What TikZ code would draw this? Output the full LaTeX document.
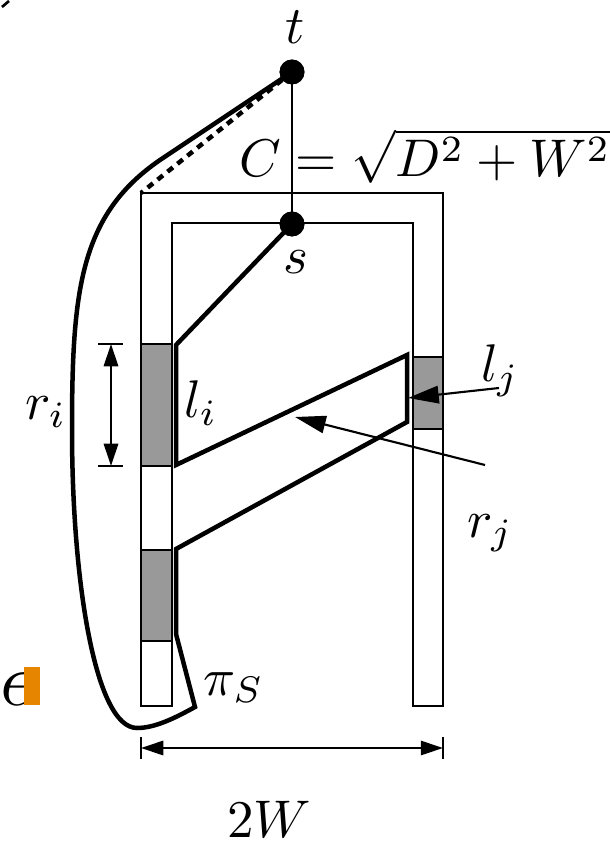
\documentclass[tikz,border=0pt]{standalone}
\usetikzlibrary{arrows.meta}
\definecolor{orangemark}{RGB}{230,134,0}
\begin{document}
\begin{tikzpicture}[x=0.1887pt,y=-0.1887pt,
  thinline/.style={line width=0.4pt},
  thickline/.style={line width=0.85pt, line join=miter},
  dot/.style={circle,fill=black,inner sep=0pt,minimum size=4.7pt},
  lab/.style={inner sep=0pt,anchor=base west},
  cen/.style={inner sep=0pt},
  block/.style={draw,line width=0.4pt,fill=black!40},
  bigtip/.style={-{Triangle[length=5.8pt,width=3.3pt]}},
  dimtip/.style={{Triangle[length=4.2pt,width=2.7pt]}-{Triangle[length=4.2pt,width=2.7pt]}},
]
\useasboundingbox (0,0) rectangle (609,843);
% U-shaped channel
\draw[thinline,line join=miter] (141,706) -- (141,193) -- (443,193) -- (443,706) -- (413,706) -- (413,223) -- (172,223) -- (172,706) -- cycle;
\draw[block] (141,344) rectangle (172,466);
\draw[block] (141,550) rectangle (172,641);
\draw[block] (413,357) rectangle (443,429);
% nodes
\node[dot] (t) at (292,72) {};
\node[dot] (s) at (292,224) {};
\coordinate (ul) at (141,193);
\draw[thinline] (t.center) -- (s.center);
\draw[thickline, dash pattern=on 1.3pt off 1.1pt] (t.center) -- (ul);
\draw[thickline] (s.center) -- (176,345) -- (176,465) -- (407,355) -- (407,422) -- (176,549) -- (176,634) -- (195,707)
  .. controls (175,718) and (155,728) .. (137,728)
  .. controls (95,728) and (72,580) .. (72,430)
  .. controls (72,290) and (80,215) .. (160,160) -- (t.center);
\node[dot] at (t) {};
\node[dot] at (s) {};
% labels
\node[cen] (tl) at (295,27) {$t$};
\node[cen] (sl) at (296,262) {$s$};
\node[lab] (cl) at (238,177) {$C=\sqrt{D^2+W^2}$};
\node[lab] (li) at (183,418) {$l_i$};
\node[lab] (ri) at (24,420) {$r_i$};
\node[lab] (lj) at (480,382) {$l_j$};
\node[lab] (rj) at (466,537) {$r_j$};
\node[lab] (pl) at (202,695) {$\pi_S$};
\node[lab] (wl) at (226,837) {$2W$};
\node[lab] (el) at (-1,705) {\fontsize{14}{16}\selectfont$\epsilon$};
\fill[orangemark] (24,667) rectangle (40,705);
% arrows to labels
\coordinate (ljs) at (499,388); \coordinate (ljt) at (408,398);
\draw[thinline,bigtip] (ljs) -- (ljt);
\coordinate (rjs) at (485,465); \coordinate (rjt) at (295,417);
\draw[thinline,bigtip] (rjs) -- (rjt);
% r_i dimension
\coordinate (rit) at (111,344); \coordinate (rib) at (111,466);
\draw[thinline,dimtip] (rit) -- (rib);
\draw[thinline] (98,344) -- (123,344) (98,466) -- (123,466);
% 2W dimension
\coordinate (wa) at (141,748); \coordinate (wb) at (443,748);
\draw[thinline,dimtip] (wa) -- (wb);
\draw[thinline] (141,737) -- (141,759) (443,737) -- (443,759);
% clipped mark at top-left
\draw[line width=0.5pt] (2,7) -- (9,1);
\end{tikzpicture}
\end{document}
